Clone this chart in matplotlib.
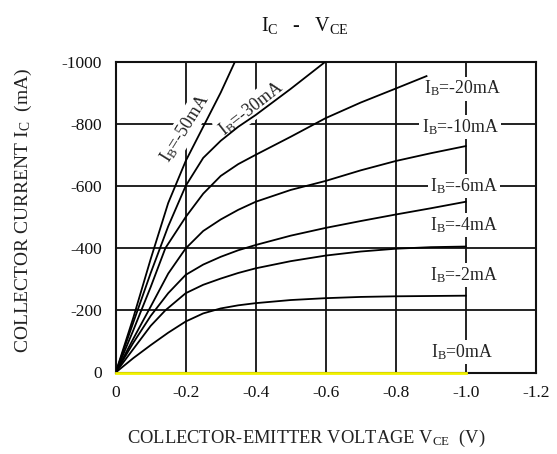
import matplotlib
matplotlib.use('Agg')
import matplotlib.pyplot as plt

plt.rcParams['font.family'] = ['Liberation Serif', 'DejaVu Serif']
plt.rcParams['mathtext.fontset'] = 'custom'
plt.rcParams['mathtext.rm'] = 'Liberation Serif'
plt.rcParams['mathtext.it'] = 'Liberation Serif:italic'
plt.rcParams['mathtext.bf'] = 'Liberation Serif:bold'

# ---- data (V in volts, I in mA) ----
v_50 = [0, -0.05, -0.1, -0.15, -0.2, -0.25, -0.3, -0.341]
i_50 = [0, -175, -365, -545, -680, -790, -900, -1000]

v_30 = [0, -0.05, -0.1, -0.15, -0.2, -0.25, -0.3, -0.35, -0.4, -0.5, -0.6]
i_30 = [0, -160, -320, -470, -600, -690, -745, -790, -828, -912, -1000]

v_20 = [0, -0.05, -0.1, -0.142, -0.2, -0.25, -0.3, -0.35, -0.4, -0.5, -0.6, -0.7, -0.8, -0.888]
i_20 = [0, -135, -275, -400, -500, -575, -632, -670, -700, -758, -818, -868, -913, -953]

v_10 = [0, -0.05, -0.1, -0.15, -0.2, -0.25, -0.3, -0.35, -0.4, -0.5, -0.6, -0.7, -0.8, -0.9, -1.0]
i_10 = [0, -108, -212, -318, -399, -455, -492, -523, -549, -587, -616, -650, -680, -705, -728]

v_6 = [0, -0.05, -0.1, -0.15, -0.2, -0.25, -0.3, -0.35, -0.4, -0.5, -0.6, -0.7, -0.8, -0.9, -1.0]
i_6 = [0, -95, -182, -255, -314, -347, -372, -393, -410, -440, -465, -487, -508, -528, -549]

v_4 = [0, -0.05, -0.1, -0.142, -0.2, -0.25, -0.3, -0.35, -0.4, -0.5, -0.6, -0.7, -0.8, -0.9, -1.0]
i_4 = [0, -75, -150, -200, -255, -282, -302, -320, -335, -358, -376, -389, -398, -403, -405]

v_2 = [0, -0.05, -0.1, -0.15, -0.2, -0.25, -0.3, -0.35, -0.4, -0.5, -0.6, -0.7, -0.8, -0.9, -1.0]
i_2 = [0, -46, -88, -128, -164, -190, -206, -216, -223, -233, -239, -243, -245, -246, -247]

v_0 = [0, -1.0]
i_0 = [0, 0]

x_ticks = [0, -0.2, -0.4, -0.6, -0.8, -1.0, -1.2]
x_tick_labels = ['0', '-0.2', '-0.4', '-0.6', '-0.8', '-1.0', '-1.2']
y_ticks = [0, -200, -400, -600, -800, -1000]
y_tick_labels = ['0', '-200', '-400', '-600', '-800', '-1000']

curves = [(v_50, i_50), (v_30, i_30), (v_20, i_20), (v_10, i_10),
          (v_6, i_6), (v_4, i_4), (v_2, i_2)]

# label texts and anchor positions (data coords)
lab_texts = [r'I$_\mathrm{B}$=-50mA', r'I$_\mathrm{B}$=-30mA', r'I$_\mathrm{B}$=-20mA',
             r'I$_\mathrm{B}$=-10mA', r'I$_\mathrm{B}$=-6mA', r'I$_\mathrm{B}$=-4mA',
             r'I$_\mathrm{B}$=-2mA', r'I$_\mathrm{B}$=0mA']
lab_v = [-0.198, -0.387, -0.992, -0.984, -0.995, -0.995, -0.995, -0.989]
lab_i = [-786, -850, -913, -789, -600, -474, -314, -66]
lab_rot = [58, 38, 0, 0, 0, 0, 0, 0]

W, H = 557, 454
fig = plt.figure(figsize=(W / 100, H / 100), dpi=100)
ax = fig.add_axes([115.7 / W, 1 - 372.5 / H, 420 / W, 311 / H])

ax.set_xlim(0, -1.2)
ax.set_ylim(0, -1000)
ax.set_xticks(x_ticks)
ax.set_xticklabels(x_tick_labels)
ax.set_yticks(y_ticks)
ax.set_yticklabels(y_tick_labels)
ax.tick_params(length=0, labelsize=12.5, colors='#111111')
ax.tick_params(axis='y', pad=10)
ax.tick_params(axis='x', pad=9)

for s in ax.spines.values():
    s.set_linewidth(1.5)
    s.set_color('#111111')

for xv in x_ticks[1:-1]:
    ax.axvline(xv, color='#111111', lw=1.3, zorder=1)
for yv in y_ticks[1:-1]:
    ax.axhline(yv, color='#111111', lw=1.3, zorder=1)

for t, lv, li, r in zip(lab_texts, lab_v, lab_i, lab_rot):
    ax.text(lv, li, t, fontsize=12.8, rotation=r, ha='center', va='center',
            rotation_mode='anchor', color='#222222', zorder=2,
            bbox=dict(facecolor='white', edgecolor='none', pad=1.5))

for v, i in curves:
    ax.plot(v, i, color='#000000', lw=1.3, zorder=3)

ax.plot(v_0, i_0, color='#f2f200', lw=2.0, zorder=4, clip_on=False)

fig.text(305 / W, 1 - 26 / H, r'I$_\mathrm{C}$   -   V$_\mathrm{CE}$', fontsize=14.5,
         ha='center', va='center', color='#111111')
fig.text(306 / W, 1 - 438 / H, r'COLLECTOR-EMITTER VOLTAGE V$_\mathrm{CE}$  (V)',
         fontsize=13.3, ha='center', va='center', color='#222222')
fig.text(23 / W, 1 - 210 / H, r'COLLECTOR CURRENT I$_\mathrm{C}$  (mA)',
         fontsize=14, ha='center', va='center', rotation=90, color='#222222')

fig.savefig('out.png', dpi=100)
